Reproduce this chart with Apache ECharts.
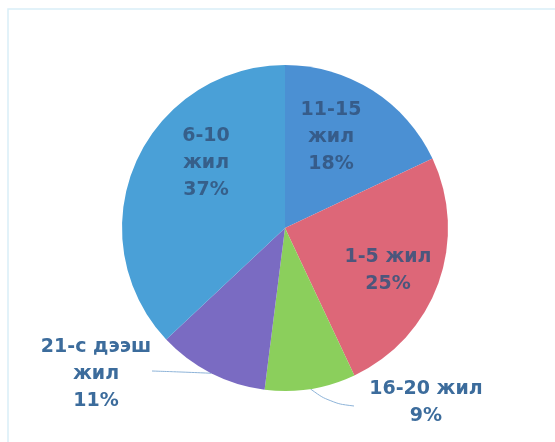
<!DOCTYPE html>
<html>
<head>
<meta charset="utf-8">
<script src="https://cdn.jsdelivr.net/npm/echarts@6/dist/echarts.min.js"></script>
<style>
html,body{margin:0;padding:0;background:#fff;}
#c{width:555px;height:442px;}
</style>
</head>
<body>
<div id="c"></div>
<script>
// Data
var categories = ['11-15 жил', '1-5 жил', '16-20 жил', '21-с дээш жил', '6-10 жил'];
var values = [18, 25, 9, 11, 37];
var labelTexts = ['11-15\nжил\n18%', '1-5 жил\n25%', '16-20 жил\n9%', '21-с дээш\nжил\n11%', '6-10\nжил\n37%'];

// Styles
var colors = ['#4b90d3', '#dd6778', '#8bcf5c', '#7a6bc2', '#4aa0d7'];
var labelPlace = [
  {x: 331, y: 137, inside: true},
  {x: 388, y: 271, inside: true},
  {x: 426, y: 403, inside: false, lineEnd: [354, 406], lineMid: [330, 403]},
  {x: 96, y: 374, inside: false, lineEnd: [152, 371], lineMid: [182, 372]},
  {x: 206, y: 163, inside: true}
];

var chart = echarts.init(document.getElementById('c'));
var data = categories.map(function (c, i) {
  var p = labelPlace[i];
  return {
    name: c,
    value: values[i],
    itemStyle: {color: colors[i]},
    label: {
      color: p.inside ? 'rgba(50,84,125,0.85)' : '#3c6c9c'
    },
    labelLine: {show: !p.inside}
  };
});

chart.setOption({
  animation: false,
  graphic: [{
    type: 'rect',
    shape: {x: 8, y: 9, width: 560, height: 450},
    style: {fill: 'none', stroke: '#d9eef8', lineWidth: 1.5},
    silent: true
  }],
  series: [{
    type: 'pie',
    center: [285, 228],
    radius: [0, 163],
    startAngle: 90,
    clockwise: true,
    data: data,
    itemStyle: {borderWidth: 0},
    label: {
      show: true,
      position: 'outside',
      formatter: function (p) { return labelTexts[p.dataIndex]; },
      fontFamily: 'DejaVu Sans',
      fontWeight: 'bold',
      fontSize: 19,
      lineHeight: 27,
      align: 'center',
      overflow: 'none'
    },
    labelLine: {
      show: true,
      length: 10,
      length2: 10,
      smooth: 0.4,
      lineStyle: {color: '#8db3d8', width: 1}
    },
    labelLayout: function (params) {
      var p = labelPlace[params.dataIndex];
      var out = {
        x: p.x,
        y: p.y,
        align: 'center',
        verticalAlign: 'middle'
      };
      if (!p.inside && params.labelLinePoints) {
        var start = params.labelLinePoints[0];
        out.labelLinePoints = [start, p.lineMid, p.lineEnd];
      }
      return out;
    }
  }]
});
</script>
</body>
</html>
